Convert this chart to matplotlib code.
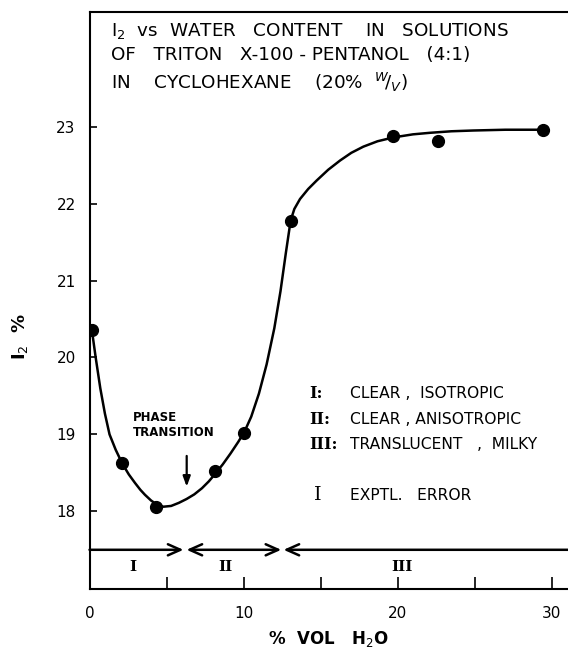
import numpy as np
import matplotlib
matplotlib.use('Agg')
import matplotlib.pyplot as plt

plt.rcParams['font.family'] = ['DejaVu Sans']

# measured points (% vol H2O, I2 %)
pts_x = [0.15, 2.13, 4.34, 8.17, 10.05, 13.1, 19.73, 22.65, 29.47]
pts_y = [20.36, 18.63, 18.06, 18.52, 19.02, 21.78, 22.88, 22.81, 22.96]

# hand drawn curve
curve_x = [0.15, 0.4, 0.7, 1.0, 1.3, 1.7, 2.13, 2.55, 2.95, 3.3, 3.6, 4.0, 4.4,
           4.8, 5.3, 5.8, 6.3, 6.8, 7.3, 7.75, 8.15, 8.65, 9.15, 9.65, 10.05,
           10.5, 11.0, 11.5, 12.0, 12.4, 12.75, 13.06, 13.3, 13.67, 14.2, 14.75,
           15.5, 16.27, 17.0, 17.78, 18.7, 19.73, 21.0, 22.1, 23.5, 24.92, 27.0,
           29.47]
curve_y = [20.36, 20.0, 19.6, 19.27, 19.0, 18.8, 18.62, 18.48, 18.37, 18.28,
           18.215, 18.14, 18.085, 18.06, 18.07, 18.11, 18.16, 18.22, 18.3, 18.39,
           18.485, 18.61, 18.75, 18.9, 19.03, 19.23, 19.53, 19.91, 20.38, 20.86,
           21.36, 21.78, 21.93, 22.06, 22.19, 22.30, 22.44, 22.56, 22.66, 22.74,
           22.81, 22.86, 22.9, 22.92, 22.94, 22.95, 22.96, 22.96]

# phase regions along the bottom band
region_names = ['I', 'II', 'III']
region_start = [0.0, 6.3, 12.6]
region_end = [6.1, 12.45, 31.1]
region_style = ['->', '<->', '<-']
region_label_x = [2.8, 8.8, 20.3]

legend_lines = ['I:', 'II:', 'III:']
legend_text = ['CLEAR ,  ISOTROPIC', 'CLEAR , ANISOTROPIC', 'TRANSLUCENT   ,  MILKY']
legend_y = [19.53, 19.2, 18.87]

xticks = [0, 5, 10, 15, 20, 25, 30]
xticklabels = ['0', '', '10', '', '20', '', '30']
yticks = [18, 19, 20, 21, 22, 23]

fig = plt.figure(figsize=(5.68, 6.5), dpi=100)
ax = fig.add_axes([0.1576, 0.0938, 0.8424, 0.8877])

ax.plot(curve_x, curve_y, color='black', lw=1.8, zorder=2)
ax.plot(pts_x, pts_y, 'o', color='black', ms=8.5, zorder=3)

# region arrows
for s, e, st in zip(region_start, region_end, region_style):
    ax.annotate('', xy=(e, 17.5), xytext=(s, 17.5),
                arrowprops=dict(arrowstyle=st + ',head_length=0.9,head_width=0.4',
                                color='black', lw=1.8, shrinkA=0, shrinkB=0),
                annotation_clip=False)
for name, lx in zip(region_names, region_label_x):
    ax.text(lx, 17.27, name, family='DejaVu Serif', fontsize=11, fontweight='bold',
            ha='center', va='center')

# phase transition arrow
ax.annotate('', xy=(6.31, 18.32), xytext=(6.31, 18.72),
            arrowprops=dict(arrowstyle='-|>,head_length=0.6,head_width=0.22',
                            color='black', lw=1.6, shrinkA=0, shrinkB=0))
ax.text(2.8, 19.12, 'PHASE\nTRANSITION', fontsize=8.5, fontweight='bold',
        ha='left', va='center', linespacing=1.2)

# title block
ax.text(1.4, 23.9, 'I$_2$  vs  WATER   CONTENT    IN   SOLUTIONS\n'
        'OF   TRITON   X-100 - PENTANOL   (4:1)\n'
        'IN    CYCLOHEXANE    (20%  $^{W}\\!/_{V}$)',
        fontsize=13.2, ha='left', va='center', linespacing=1.38)

# legend block
for lab, txt, yy in zip(legend_lines, legend_text, legend_y):
    ax.text(14.3, yy, lab, family='DejaVu Serif', fontsize=11.5, fontweight='bold',
            ha='left', va='center')
    ax.text(16.9, yy, txt, fontsize=11.2, ha='left', va='center')
ax.text(14.85, 18.21, 'I', family='DejaVu Serif', fontsize=14, ha='center', va='center')
ax.text(16.9, 18.21, 'EXPTL.   ERROR', fontsize=11.2, ha='left', va='center')

ax.set_xlim(0, 31.07)
ax.set_ylim(16.99, 24.49)
ax.set_xticks(xticks)
ax.set_xticklabels(xticklabels)
ax.set_yticks(yticks)
ax.tick_params(axis='x', direction='in', length=9, width=1.2, pad=12, labelsize=11)
ax.tick_params(axis='y', direction='in', length=5, width=1.2, pad=10, labelsize=11)
ax.spines['right'].set_visible(False)
for sp in ['left', 'bottom', 'top']:
    ax.spines[sp].set_linewidth(1.5)

ax.set_xlabel('%  VOL   H$_2$O', fontsize=12, fontweight='bold', labelpad=6)
ax.set_ylabel('I$_2$  %', fontsize=13, fontweight='bold')
ax.yaxis.set_label_coords(-0.124, 0.438)

plt.savefig('out.png', dpi=100)
